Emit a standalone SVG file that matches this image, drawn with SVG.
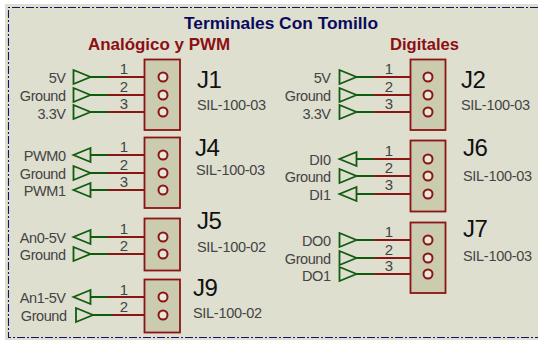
<svg xmlns="http://www.w3.org/2000/svg" xmlns:xlink="http://www.w3.org/1999/xlink" width="538" height="340" viewBox="0 0 538 340">
<style>
text{font-family:"Liberation Sans",Arial,sans-serif}
.bx{fill:#cbcbb0;stroke:#8b1414;stroke-width:1.800}
.pc{fill:#e8e8da;stroke:#8b1414;stroke-width:2}
.tri{fill:none;stroke:#0f5c0f;stroke-width:1.800}
.g{fill:none;stroke:#0f5c0f;stroke-width:1.800}
.r{fill:none;stroke:#8b1414;stroke-width:1.800}
.lb{font-size:14.500px;letter-spacing:-.45px;fill:#444;text-anchor:end}
.n{font-size:15px;fill:#444;text-anchor:middle}
.ref{font-size:24px;letter-spacing:-.5px;fill:#111}
.val{font-size:14.500px;letter-spacing:-.3px;fill:#444}
.h{font-size:17px;font-weight:bold;fill:#8b0f14}
.t{font-size:17px;font-weight:bold;fill:#0a0a5c}
</style>
<defs>
<path id="tr" class="tri" d="M0-7V7L17 0Z"/>
<path id="tl" class="tri" d="M17-7V7L0 0Z"/>
</defs>
<rect width="538" height="340" fill="#fff"/>
<rect x="5" y="4" width="533" height="336" fill="#dfdfd0"/>
<path d="M538 7.500H8.500V337.500H538" fill="none" stroke="#14146e" stroke-width="1.100" stroke-dasharray="8 2 2 2"/>
<text class="t" x="184" y="29" textLength="194" lengthAdjust="spacingAndGlyphs">Terminales Con Tomillo</text>
<text class="h" x="88" y="50" textLength="142" lengthAdjust="spacingAndGlyphs">Analógico y PWM</text>
<text class="h" x="390" y="50" textLength="69" lengthAdjust="spacingAndGlyphs">Digitales</text>

<g id="connectors">
<g id="wires-green" class="g">
<path d="M90 77H108M90 95H108M90 112H108"/>
<path d="M90 155H108M90 173H108M90 190H108"/>
<path d="M90 237H108M90 254H108"/>
<path d="M90 297H108M92 315H112"/>
<path d="M356 77H374M356 95H374M356 112H374"/>
<path d="M356 159H374M356 176H374M356 194H374"/>
<path d="M356 240H374M356 258H374M356 274H374"/>
</g>
<g id="wires-red" class="r">
<path d="M108 77H158M108 95H158M108 112H158"/>
<path d="M108 155H158M108 173H158M108 190H158"/>
<path d="M108 237H158M108 254H158"/>
<path d="M108 297H158M112 315H158"/>
<path d="M374 77H423M374 95H423M374 112H423"/>
<path d="M374 159H423M374 176H423M374 194H423"/>
<path d="M374 240H423M374 258H423M374 274H423"/>
</g>
</g>

<g id="J1">
<rect class="bx" x="144.500" y="59.500" width="35.500" height="70.500"/>
<circle class="pc" cx="163" cy="77" r="4.500"/><circle class="pc" cx="163" cy="95" r="4.500"/><circle class="pc" cx="163" cy="112" r="4.500"/>
<use xlink:href="#tr" x="73.500" y="77"/><use xlink:href="#tr" x="73.500" y="95"/><use xlink:href="#tr" x="73.500" y="112"/>
<text class="lb" x="65.500" y="83">5V</text><text class="lb" x="65.500" y="101">Ground</text><text class="lb" x="65.500" y="119">3.3V</text>
<text class="n" x="124" y="74">1</text><text class="n" x="124" y="92">2</text><text class="n" x="124" y="109">3</text>
<text class="ref" x="197" y="88">J1</text><text class="val" x="197" y="110">SIL-100-03</text>
</g>
<g id="J4">
<rect class="bx" x="144.500" y="137.500" width="35.500" height="70.500"/>
<circle class="pc" cx="163" cy="155" r="4.500"/><circle class="pc" cx="163" cy="173" r="4.500"/><circle class="pc" cx="163" cy="190" r="4.500"/>
<use xlink:href="#tl" x="73.500" y="155"/><use xlink:href="#tr" x="73.500" y="173"/><use xlink:href="#tl" x="73.500" y="190"/>
<text class="lb" x="65.500" y="161">PWM0</text><text class="lb" x="65.500" y="179">Ground</text><text class="lb" x="65.500" y="196">PWM1</text>
<text class="n" x="124" y="152">1</text><text class="n" x="124" y="170">2</text><text class="n" x="124" y="187">3</text>
<text class="ref" x="195" y="156">J4</text><text class="val" x="196" y="175">SIL-100-03</text>
</g>
<g id="J5">
<rect class="bx" x="144.500" y="218.500" width="35.500" height="52"/>
<circle class="pc" cx="163" cy="237" r="4.500"/><circle class="pc" cx="163" cy="254" r="4.500"/>
<use xlink:href="#tl" x="73.500" y="237"/><use xlink:href="#tr" x="73.500" y="254"/>
<text class="lb" x="65.500" y="243">An0-5V</text><text class="lb" x="65.500" y="260">Ground</text>
<text class="n" x="124" y="234">1</text><text class="n" x="124" y="251">2</text>
<text class="ref" x="197" y="229">J5</text><text class="val" x="197" y="252">SIL-100-02</text>
</g>
<g id="J9">
<rect class="bx" x="144.500" y="279.500" width="35.500" height="53"/>
<circle class="pc" cx="163" cy="297" r="4.500"/><circle class="pc" cx="163" cy="315" r="4.500"/>
<use xlink:href="#tl" x="73.500" y="297"/><use xlink:href="#tr" x="76" y="315"/>
<text class="lb" x="65.500" y="303">An1-5V</text><text class="lb" x="66.500" y="321">Ground</text>
<text class="n" x="124" y="295">1</text><text class="n" x="124" y="312">2</text>
<text class="ref" x="193" y="296">J9</text><text class="val" x="193" y="318">SIL-100-02</text>
</g>
<g id="J2">
<rect class="bx" x="410.500" y="59.500" width="35" height="70.500"/>
<circle class="pc" cx="428" cy="77" r="4.500"/><circle class="pc" cx="428" cy="95" r="4.500"/><circle class="pc" cx="428" cy="112" r="4.500"/>
<use xlink:href="#tr" x="339.500" y="77"/><use xlink:href="#tr" x="339.500" y="95"/><use xlink:href="#tr" x="339.500" y="112"/>
<text class="lb" x="330.500" y="83">5V</text><text class="lb" x="330.500" y="101">Ground</text><text class="lb" x="330.500" y="119">3.3V</text>
<text class="n" x="389" y="74">1</text><text class="n" x="389" y="92">2</text><text class="n" x="389" y="109">3</text>
<text class="ref" x="461" y="88">J2</text><text class="val" x="461" y="110">SIL-100-03</text>
</g>
<g id="J6">
<rect class="bx" x="410.500" y="140.500" width="35" height="71"/>
<circle class="pc" cx="428" cy="159" r="4.500"/><circle class="pc" cx="428" cy="176" r="4.500"/><circle class="pc" cx="428" cy="194" r="4.500"/>
<use xlink:href="#tl" x="339.500" y="159"/><use xlink:href="#tr" x="339.500" y="176"/><use xlink:href="#tl" x="339.500" y="194"/>
<text class="lb" x="330.500" y="165">DI0</text><text class="lb" x="330.500" y="182">Ground</text><text class="lb" x="330.500" y="200">DI1</text>
<text class="n" x="389" y="156">1</text><text class="n" x="389" y="173">2</text><text class="n" x="389" y="190">3</text>
<text class="ref" x="463" y="156">J6</text><text class="val" x="463" y="181">SIL-100-03</text>
</g>
<g id="J7">
<rect class="bx" x="410.500" y="222.500" width="35" height="70.500"/>
<circle class="pc" cx="428" cy="240" r="4.500"/><circle class="pc" cx="428" cy="258" r="4.500"/><circle class="pc" cx="428" cy="274" r="4.500"/>
<use xlink:href="#tr" x="339.500" y="240"/><use xlink:href="#tr" x="339.500" y="258"/><use xlink:href="#tr" x="339.500" y="274"/>
<text class="lb" x="330.500" y="246">DO0</text><text class="lb" x="330.500" y="264">Ground</text><text class="lb" x="330.500" y="281">DO1</text>
<text class="n" x="389" y="237">1</text><text class="n" x="389" y="255">2</text><text class="n" x="389" y="271">3</text>
<text class="ref" x="463" y="237">J7</text><text class="val" x="463" y="261">SIL-100-03</text>
</g>
</svg>
